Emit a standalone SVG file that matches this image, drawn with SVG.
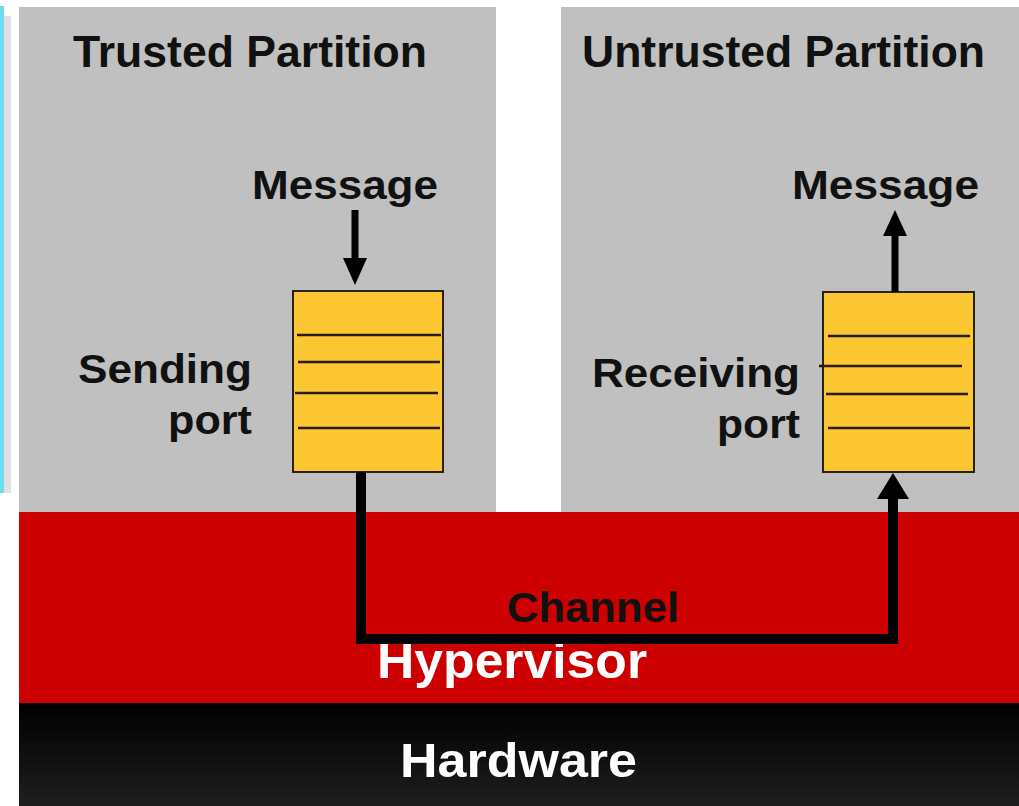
<svg xmlns="http://www.w3.org/2000/svg" width="1019" height="806" viewBox="0 0 1019 806">
<defs>
<linearGradient id="hwgrad" x1="0" y1="0" x2="0" y2="1">
<stop offset="0" stop-color="#000000"/>
<stop offset="1" stop-color="#1e1e1e"/>
</linearGradient>
</defs>
<style>
.t{font-family:"Liberation Sans",Arial,sans-serif;font-weight:bold;fill:#111111}
.w{fill:#ffffff}
.panel{fill:#c0c0c0}
.port{fill:#fcc732;stroke:#2a2210;stroke-width:2}
.slot{stroke:#2a1a08;stroke-width:2.5}
.conn{fill:none;stroke:#000000;stroke-width:10}
.arrow{fill:none;stroke:#000000;stroke-width:7}
</style>
<rect x="0" y="0" width="1019" height="806" fill="#ffffff"/>
<rect x="0" y="6" width="4" height="487" fill="#6fdcef"/>
<rect x="4" y="16" width="7" height="477" fill="#e0e0e0"/>

<g id="trusted-partition">
<rect class="panel" x="19" y="7" width="477" height="506"/>
<text class="t" x="73" y="67" font-size="44" textLength="354" lengthAdjust="spacingAndGlyphs">Trusted Partition</text>
</g>
<g id="untrusted-partition">
<rect class="panel" x="561" y="7" width="458" height="506"/>
<text class="t" x="582" y="67" font-size="44" textLength="403" lengthAdjust="spacingAndGlyphs">Untrusted Partition</text>
</g>

<g id="hypervisor">
<rect x="19" y="512" width="1000" height="192" fill="#cc0000"/>
<text class="t w" x="377" y="678" font-size="50" textLength="270" lengthAdjust="spacingAndGlyphs">Hypervisor</text>
</g>
<g id="hardware">
<rect x="19" y="703" width="1000" height="103" fill="url(#hwgrad)"/>
<text class="t w" x="400" y="777" font-size="48" textLength="237" lengthAdjust="spacingAndGlyphs">Hardware</text>
</g>

<g id="sending-port">
<rect class="port" x="293" y="291" width="150" height="181"/>
<line class="slot" x1="297" y1="335" x2="441" y2="335" stroke-width="3"/>
<line class="slot" x1="298" y1="362" x2="440" y2="362"/>
<line class="slot" x1="295" y1="393" x2="438" y2="393"/>
<line class="slot" x1="298" y1="428" x2="440" y2="428"/>
<text class="t" x="78" y="383" font-size="41" textLength="174" lengthAdjust="spacingAndGlyphs">Sending</text>
<text class="t" x="252" y="434" font-size="41" text-anchor="end" textLength="84" lengthAdjust="spacingAndGlyphs">port</text>
</g>

<g id="receiving-port">
<rect class="port" x="823" y="292" width="151" height="180"/>
<line class="slot" x1="828" y1="336" x2="970" y2="336"/>
<line class="slot" x1="819" y1="366" x2="962" y2="366"/>
<line class="slot" x1="826" y1="394" x2="968" y2="394"/>
<line class="slot" x1="828" y1="428" x2="970" y2="428"/>
<text class="t" x="592" y="387" font-size="41" textLength="208" lengthAdjust="spacingAndGlyphs">Receiving</text>
<text class="t" x="800" y="438" font-size="41" text-anchor="end" textLength="83" lengthAdjust="spacingAndGlyphs">port</text>
</g>

<g id="message-in">
<text class="t" x="252" y="199" font-size="40" textLength="186" lengthAdjust="spacingAndGlyphs">Message</text>
</g>
<g id="message-out">
<text class="t" x="792" y="199" font-size="40" textLength="187" lengthAdjust="spacingAndGlyphs">Message</text>
</g>

<g id="channel-label">
<text class="t" x="507" y="622" font-size="42" textLength="172" lengthAdjust="spacingAndGlyphs" fill="#1a0000">Channel</text>
</g>

<g id="connectors">
<line class="arrow" x1="355" y1="210" x2="355" y2="262"/>
<polygon points="343,258 367,258 355,285" fill="#000"/>
<line class="arrow" x1="895" y1="230" x2="895" y2="292"/>
<polygon points="883,236 907,236 895,210" fill="#000"/>
<path class="conn" d="M361 472 V639 H893 V496"/>
<polygon points="877,499 909,499 893,473" fill="#000"/>
</g>
</svg>
